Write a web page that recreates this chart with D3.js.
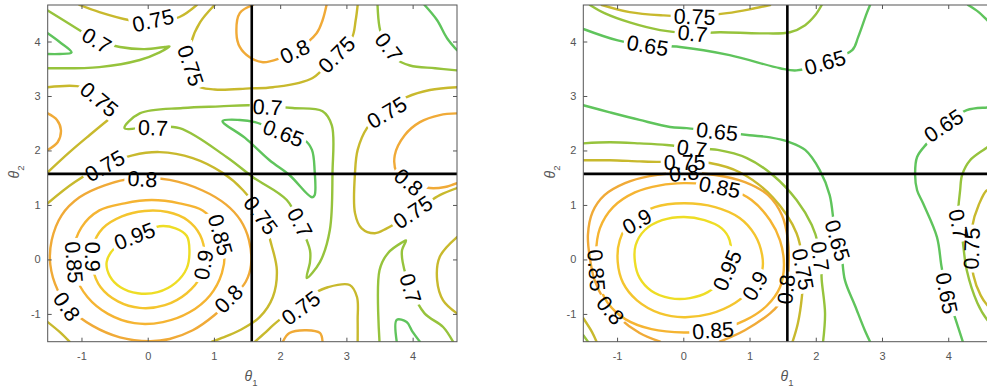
<!DOCTYPE html>
<html>
<head>
<meta charset="utf-8">
<script src="https://cdn.jsdelivr.net/npm/d3@7"></script>
<style>
  body { margin: 0; background: #fff; }
  svg { display: block; font-family: "Liberation Sans", Arial, Helvetica, sans-serif; }
</style>
</head>
<body>
<svg id="chart" width="987" height="392"></svg>
<script>
// contour levels and their colours
const levels = [0.65, 0.7, 0.75, 0.8, 0.85, 0.9, 0.95];
const levelColors = ["#5fc45c", "#96c33c", "#c8b92d", "#f0aa37", "#f5b432", "#f4c52e", "#eedd25"];
const thetaTicks = [-1, 0, 1, 2, 3, 4];
const thetaDomain = [-1.51, 4.67];
const crossAt = 1.571; // black reference lines

// contour lines: [level, [[theta1, theta2], ...]]
const leftContours = [
  [0.95, [[0.63,0.17],[0.59,0.43],[0.42,0.57],[0.18,0.61],[-0.20,0.43],[-0.50,0.21],[-0.62,-0.05],[-0.57,-0.31],[-0.41,-0.51],[-0.15,-0.62],[0.15,-0.60],[0.42,-0.43],[0.59,-0.16],[0.63,0.17]]],
  [0.9, [[0.86,0.08],[0.79,0.45],[0.60,0.72],[0.30,0.87],[-0.05,0.89],[-0.39,0.79],[-0.68,0.57],[-0.83,0.23],[-0.83,-0.16],[-0.71,-0.51],[-0.45,-0.77],[-0.12,-0.89],[0.26,-0.84],[0.59,-0.62],[0.80,-0.31],[0.86,0.08]]],
  [0.85, [[1.16,0.17],[1.07,0.57],[0.83,0.90],[0.48,1.03],[0.06,1.09],[-0.35,1.03],[-0.73,0.90],[-1.00,0.59],[-1.12,0.17],[-1.09,-0.29],[-0.91,-0.69],[-0.60,-1.00],[-0.20,-1.17],[0.23,-1.15],[0.63,-0.97],[0.94,-0.66],[1.12,-0.25],[1.16,0.17]]],
  [0.8, [[1.56,-0.10],[1.53,0.35],[1.40,0.72],[1.18,1.01],[0.82,1.27],[0.33,1.46],[-0.20,1.49],[-0.65,1.36],[-1.03,1.14],[-1.30,0.81],[-1.45,0.35],[-1.47,-0.10],[-1.36,-0.56],[-1.15,-0.93],[-0.83,-1.22],[-0.42,-1.43],[0.03,-1.50],[0.33,-1.46],[0.68,-1.30],[1.01,-1.02],[1.27,-0.71],[1.48,-0.41],[1.56,-0.10]]],
  [0.8, [[-1.51,2.68],[-1.37,2.56],[-1.31,2.37],[-1.36,2.15],[-1.51,2.01]]],
  [0.8, [[4.67,2.68],[4.41,2.65],[4.11,2.52],[3.88,2.28],[3.73,1.91],[3.76,1.60],[3.96,1.40],[4.26,1.31],[4.49,1.33],[4.67,1.40]]],
  [0.8, [[1.59,4.67],[1.39,4.52],[1.34,4.15],[1.39,3.90],[1.54,3.71],[1.74,3.62],[1.99,3.69],[2.25,3.84],[2.55,4.15],[2.64,4.39],[2.70,4.67]]],
  [0.8, [[2.04,-1.51],[2.14,-1.35],[2.40,-1.30],[2.60,-1.35],[2.64,-1.51]]],
  [0.75, [[-1.03,4.67],[-0.73,4.54],[-0.27,4.39],[0.08,4.34],[0.48,4.45],[0.74,4.67]]],
  [0.75, [[1.01,4.67],[0.79,4.35],[0.66,3.99],[0.63,3.56],[0.73,3.20],[1.01,3.12],[1.54,3.14],[1.89,3.16],[2.49,3.33],[2.82,3.75],[3.08,4.06],[3.14,4.39],[3.17,4.67]]],
  [0.75, [[-1.51,3.16],[-1.07,3.18],[-0.80,3.07],[-0.60,2.87],[-0.48,2.67],[-0.60,2.56],[-0.88,2.28],[-1.18,1.97],[-1.51,1.60]]],
  [0.75, [[-1.51,1.03],[-1.10,1.42],[-0.65,1.73],[-0.23,1.91],[0.18,1.97],[0.68,1.86],[1.13,1.59],[1.44,1.27],[1.72,0.81],[1.87,0.26],[1.95,-0.20],[1.89,-0.69],[1.69,-1.06],[1.39,-1.30],[1.12,-1.44],[0.97,-1.51]]],
  [0.75, [[1.62,-1.51],[1.77,-1.35],[1.89,-1.21],[2.22,-0.89],[2.52,-0.62],[2.72,-0.51],[3.05,-0.47],[3.16,-0.69],[3.17,-1.11],[3.17,-1.51]]],
  [0.75, [[4.67,3.16],[4.26,3.11],[3.91,2.98],[3.58,2.74],[3.31,2.41],[3.17,2.01],[3.13,1.59],[3.13,0.85],[3.23,0.57],[3.43,0.48],[3.61,0.57],[3.88,0.76],[4.18,1.00],[4.41,1.18],[4.67,1.31]]],
  [0.75, [[4.67,0.41],[4.41,0.05],[4.37,-0.38],[4.46,-0.75],[4.67,-0.99]]],
  [0.75, [[-1.51,-1.15],[-1.33,-1.33],[-1.18,-1.51]]],
  [0.7, [[3.47,4.67],[3.50,4.26],[3.58,3.93],[3.73,3.69],[3.96,3.56],[4.34,3.51],[4.67,3.47]]],
  [0.7, [[-1.51,4.57],[-1.15,4.30],[-0.77,4.02],[-0.42,3.90],[-0.05,3.86],[0.26,3.90],[0.33,3.91],[0.18,3.80],[-0.12,3.66],[-0.73,3.53],[-1.51,3.51]]],
  [0.7, [[-0.35,2.41],[-0.12,2.68],[0.53,2.78],[1.09,2.81],[1.54,2.83],[2.19,2.78],[2.64,2.72],[2.78,2.46],[2.79,1.59],[2.75,0.54],[2.60,-0.05],[2.40,-0.34],[2.45,-0.05],[2.45,0.17],[2.30,0.63],[2.10,1.09],[1.59,1.51],[1.19,1.88],[0.48,2.41],[0.03,2.43],[-0.35,2.41]]],
  [0.7, [[3.50,-1.51],[3.50,-0.20],[3.63,0.12],[3.85,0.32],[3.90,0.35],[3.84,0.17],[3.85,-0.05],[3.97,-0.53],[4.18,-0.99],[4.46,-1.24],[4.61,-1.51]]],
  [0.65, [[1.13,2.54],[1.39,2.56],[1.62,2.52],[2.05,2.32],[2.37,2.19],[2.48,2.01],[2.52,1.64],[2.52,1.18],[2.48,1.14],[2.14,1.55],[1.84,1.82],[1.47,2.23],[1.13,2.54]]],
  [0.65, [[-1.51,4.15],[-1.33,3.99],[-1.15,3.80],[-1.33,3.77],[-1.51,3.77]]],
  [0.65, [[4.18,4.67],[4.37,4.39],[4.52,4.06],[4.67,3.84]]],
  [0.65, [[3.76,-1.51],[3.76,-1.11],[3.91,-1.15],[4.00,-1.33],[4.11,-1.51]]]
];

const rightContours = [
  [0.95, [[0.70,0.35],[0.58,0.57],[0.32,0.72],[0.01,0.78],[-0.32,0.72],[-0.58,0.54],[-0.72,0.26],[-0.73,-0.05],[-0.66,-0.34],[-0.48,-0.58],[-0.20,-0.71],[0.10,-0.71],[0.37,-0.60],[0.58,-0.38],[0.70,-0.05],[0.70,0.35]]],
  [0.9, [[1.19,0.08],[1.08,0.45],[0.85,0.76],[0.48,0.96],[0.01,1.03],[-0.43,0.96],[-0.78,0.72],[-0.96,0.35],[-0.99,-0.05],[-0.91,-0.43],[-0.70,-0.75],[-0.35,-0.99],[0.01,-1.06],[0.40,-1.00],[0.78,-0.80],[1.03,-0.53],[1.19,-0.20],[1.19,0.08]]],
  [0.85, [[1.52,-0.10],[1.46,0.35],[1.31,0.72],[1.03,1.09],[0.70,1.29],[0.32,1.38],[0.01,1.40],[-0.35,1.36],[-0.73,1.23],[-1.06,0.96],[-1.26,0.57],[-1.32,0.08],[-1.29,-0.38],[-1.14,-0.80],[-0.87,-1.10],[-0.48,-1.28],[0.01,-1.34],[0.48,-1.30],[0.93,-1.12],[1.26,-0.85],[1.46,-0.51],[1.52,-0.10]]],
  [0.8, [[-0.35,-1.51],[-0.66,-1.35],[-0.96,-1.08],[-1.19,-0.75],[-1.34,-0.38],[-1.41,0.02],[-1.44,0.45],[-1.37,0.87],[-1.19,1.18],[-0.88,1.40],[-0.51,1.53],[0.01,1.59],[0.48,1.55],[0.93,1.42],[1.28,1.18],[1.49,0.81],[1.58,0.35],[1.59,-0.10],[1.55,-0.56],[1.43,-0.84],[1.31,-0.99],[0.93,-1.30],[0.55,-1.51]]],
  [0.75, [[-1.51,1.82],[-1.11,1.82],[-0.66,1.80],[-0.35,1.79],[0.02,1.79],[0.40,1.77],[0.85,1.60],[1.35,1.14],[1.71,0.48],[1.81,-0.20],[1.79,-0.69],[1.73,-1.17],[1.65,-1.51]]],
  [0.75, [[-1.51,-1.08],[-1.38,-1.33],[-1.31,-1.51]]],
  [0.75, [[-1.23,4.67],[-0.81,4.54],[-0.31,4.48],[0.17,4.46],[0.66,4.52],[1.00,4.59],[1.31,4.67]]],
  [0.75, [[4.67,1.17],[4.59,1.27],[4.46,1.00],[4.36,0.59],[4.35,0.17],[4.38,-0.29],[4.49,-0.66],[4.59,-0.84],[4.67,-0.93]]],
  [0.7, [[-1.51,2.13],[-1.11,2.15],[-0.66,2.13],[-0.25,2.10],[0.13,2.04],[0.52,2.01],[0.96,1.86],[1.35,1.55],[1.71,1.09],[1.94,0.63],[2.04,0.26],[2.08,-0.10],[2.09,-0.38],[2.14,-0.99],[2.11,-1.51]]],
  [0.7, [[-1.41,4.67],[-1.19,4.52],[-0.81,4.35],[-0.35,4.21],[0.14,4.15],[0.55,4.17],[1.16,4.15],[1.61,4.17],[1.84,4.30],[1.99,4.48],[2.09,4.67]]],
  [0.7, [[-1.51,-1.39],[-1.44,-1.51]]],
  [0.7, [[4.67,2.15],[4.59,2.06],[4.33,1.82],[4.21,1.55],[4.18,1.27],[4.15,0.78],[4.21,0.41],[4.28,-0.20],[4.44,-0.80],[4.59,-1.11],[4.67,-1.20]]],
  [0.65, [[-1.51,2.83],[-1.11,2.70],[-0.66,2.56],[-0.20,2.43],[0.05,2.41],[0.51,2.35],[1.00,2.28],[1.31,2.24],[1.61,2.15],[1.84,2.01],[2.06,1.64],[2.21,1.18],[2.29,0.54],[2.38,0.17],[2.44,-0.38],[2.59,-0.84],[2.74,-1.30],[2.82,-1.51]]],
  [0.65, [[-1.51,4.23],[-0.99,4.02],[-0.54,3.93],[-0.05,3.90],[0.70,3.75],[1.46,3.51],[1.71,3.47],[2.14,3.62],[2.55,3.84],[2.64,4.08],[2.77,4.52],[2.82,4.67]]],
  [0.65, [[4.67,2.80],[4.59,2.79],[4.28,2.74],[3.93,2.46],[3.68,2.13],[3.53,1.88],[3.50,1.55],[3.53,1.27],[3.62,1.03],[3.83,0.41],[3.90,-0.14],[3.98,-0.62],[4.10,-1.06],[4.22,-1.51]]],
  [0.65, [[4.67,4.30],[4.59,4.39],[4.46,4.54],[4.30,4.67]]]
];

// inline labels: [level, theta1, theta2]
const leftLabels = [
  [0.75,0.08,4.39],[0.7,-0.77,4.02],[0.75,0.65,3.56],[0.75,-0.73,2.94],[0.7,0.08,2.42],
  [0.75,-0.65,1.72],[0.8,-0.08,1.48],[0.8,2.22,3.82],[0.75,2.85,3.76],[0.7,1.81,2.80],
  [0.65,2.05,2.32],[0.7,3.64,3.90],[0.75,3.61,2.70],[0.8,3.94,1.42],[0.75,4.00,0.87],
  [0.75,1.71,0.81],[0.7,2.30,0.68],[0.7,3.97,-0.53],[0.75,2.31,-0.89],[0.95,-0.20,0.43],
  [0.85,-1.11,-0.05],[0.9,-0.83,0.05],[0.85,1.10,0.45],[0.9,0.84,-0.10],[0.8,1.22,-0.72],
  [0.8,-1.22,-0.86]
];
const rightLabels = [
  [0.75,0.17,4.46],[0.7,0.14,4.15],[0.65,-0.54,3.93],[0.65,2.14,3.62],[0.65,0.51,2.35],
  [0.7,0.13,2.04],[0.75,0.02,1.79],[0.8,0.01,1.59],[0.85,0.55,1.33],[0.9,-0.70,0.70],
  [0.95,0.66,-0.20],[0.9,1.08,-0.48],[0.85,-1.31,-0.20],[0.8,-1.10,-0.93],[0.85,0.45,-1.30],
  [0.8,1.55,-0.55],[0.75,1.81,-0.18],[0.7,2.07,0.06],[0.65,2.33,0.35],[0.65,3.98,-0.62],
  [0.7,4.16,0.65],[0.75,4.35,0.20],[0.65,3.93,2.46]
];

const W = 987, H = 392;
const plotW = 409.3, plotTop = 5, plotBottom = 341.7;
const axisGray = "#555";

const svg = d3.select("#chart");
const defs = svg.append("defs");

function segAngle(contours, lv, px, py, x, y) {
  let best = 0, bd = Infinity;
  contours.filter(c => c[0] === lv).forEach(c => {
    const pts = c[1];
    for (let i = 0; i < pts.length - 1; i++) {
      const ax = x(pts[i][0]), ay = y(pts[i][1]);
      const bx = x(pts[i + 1][0]), by = y(pts[i + 1][1]);
      const dx = bx - ax, dy = by - ay, L = dx * dx + dy * dy || 1;
      let t = ((px - ax) * dx + (py - ay) * dy) / L;
      t = Math.max(0, Math.min(1, t));
      const qx = ax + t * dx - px, qy = ay + t * dy - py, d = qx * qx + qy * qy;
      if (d < bd) { bd = d; best = Math.atan2(dy, dx) * 180 / Math.PI; }
    }
  });
  if (best > 90) best -= 180;
  if (best < -90) best += 180;
  return best;
}

function drawPanel(key, ox, contours, labels, xLabelX, yLabelX) {
  const x = d3.scaleLinear().domain(thetaDomain).range([ox, ox + plotW]);
  const y = d3.scaleLinear().domain(thetaDomain).range([plotBottom, plotTop]);

  defs.append("clipPath").attr("id", "clip-" + key)
    .append("rect").attr("x", ox).attr("y", plotTop)
    .attr("width", plotW).attr("height", plotBottom - plotTop);

  const g = svg.append("g");
  const contourG = g.append("g").attr("clip-path", `url(#clip-${key})`);
  const labelG = g.append("g").attr("clip-path", `url(#clip-${key})`);

  // labels first, so they can be measured for the line gaps
  const boxes = labels.map(([lv, t1, t2]) => {
    const px = x(t1), py = y(t2);
    const a = segAngle(contours, lv, px, py, x, y);
    const tr = `translate(${px},${py}) rotate(${a})`;
    const t = labelG.append("text")
      .attr("transform", tr)
      .attr("text-anchor", "middle")
      .attr("dy", "0.36em")
      .attr("font-size", 21.5)
      .attr("fill", "#000")
      .text(String(lv));
    const bb = t.node().getBBox();
    return { lv, tr, bb };
  });

  const line = d3.line().x(d => x(d[0])).y(d => y(d[1]));

  levels.forEach((lv, i) => {
    const mid = `mask-${key}-${i}`;
    const m = defs.append("mask").attr("id", mid)
      .attr("maskUnits", "userSpaceOnUse")
      .attr("x", 0).attr("y", 0).attr("width", W + 20).attr("height", H);
    m.append("rect").attr("x", 0).attr("y", 0).attr("width", W + 20).attr("height", H).attr("fill", "#fff");
    boxes.filter(b => b.lv === lv).forEach(b => {
      m.append("rect")
        .attr("transform", b.tr)
        .attr("x", b.bb.x - 3).attr("y", b.bb.y + 2)
        .attr("width", b.bb.width + 6).attr("height", b.bb.height - 4)
        .attr("fill", "#000");
    });
    const lg = contourG.append("g").attr("mask", `url(#${mid})`);
    contours.filter(c => c[0] === lv).forEach(c => {
      let pts = c[1];
      const first = pts[0], last = pts[pts.length - 1];
      const closed = first[0] === last[0] && first[1] === last[1];
      if (closed) pts = pts.slice(0, -1);
      lg.append("path")
        .attr("d", line.curve(closed ? d3.curveCatmullRomClosed.alpha(0.5) : d3.curveCatmullRom.alpha(0.5))(pts))
        .attr("fill", "none")
        .attr("stroke", levelColors[i])
        .attr("stroke-width", 2.4)
        .attr("stroke-linejoin", "round")
        .attr("stroke-linecap", "round");
    });
  });

  // black reference lines at pi/2
  const refG = g.append("g").attr("clip-path", `url(#clip-${key})`);
  refG.append("line")
    .attr("x1", x(crossAt)).attr("x2", x(crossAt))
    .attr("y1", plotTop).attr("y2", plotBottom)
    .attr("stroke", "#000").attr("stroke-width", 2.6);
  refG.append("line")
    .attr("x1", ox).attr("x2", ox + plotW)
    .attr("y1", y(crossAt)).attr("y2", y(crossAt))
    .attr("stroke", "#000").attr("stroke-width", 2.6);

  // box with inward ticks on all sides
  const styleAxis = a => {
    a.select(".domain").remove();
    a.selectAll(".tick line").attr("stroke", axisGray);
    a.selectAll(".tick text").attr("fill", axisGray).attr("font-size", 11)
      .attr("font-family", '"Liberation Sans", Arial, Helvetica, sans-serif');
  };
  g.append("g").attr("transform", `translate(0,${plotBottom})`)
    .call(d3.axisBottom(x).tickValues(thetaTicks).tickSize(-4).tickPadding(11).tickFormat(d => String(d)))
    .call(styleAxis);
  g.append("g").attr("transform", `translate(0,${plotTop})`)
    .call(d3.axisTop(x).tickValues(thetaTicks).tickSize(-4).tickFormat(""))
    .call(styleAxis);
  g.append("g").attr("transform", `translate(${ox},0)`)
    .call(d3.axisLeft(y).tickValues(thetaTicks).tickSize(-4).tickPadding(7).tickFormat(d => String(d)))
    .call(styleAxis);
  g.append("g").attr("transform", `translate(${ox + plotW},0)`)
    .call(d3.axisRight(y).tickValues(thetaTicks).tickSize(-4).tickFormat(""))
    .call(styleAxis);
  g.append("rect")
    .attr("x", ox).attr("y", plotTop)
    .attr("width", plotW).attr("height", plotBottom - plotTop)
    .attr("fill", "none").attr("stroke", axisGray).attr("stroke-width", 1);

  // axis titles
  const tx = g.append("text")
    .attr("x", xLabelX).attr("y", 381)
    .attr("text-anchor", "middle").attr("fill", axisGray).attr("font-size", 14);
  tx.append("tspan").attr("font-style", "italic").text("θ");
  tx.append("tspan").attr("font-size", 9.5).attr("dy", 5).text("1");

  const ty = g.append("text")
    .attr("transform", `translate(${yLabelX},${172}) rotate(-90)`)
    .attr("text-anchor", "middle").attr("fill", axisGray).attr("font-size", 14);
  ty.append("tspan").attr("font-style", "italic").text("θ");
  ty.append("tspan").attr("font-size", 9.5).attr("dy", 5).text("2");
}

drawPanel("left", 47.7, leftContours, leftLabels, 251, 19);
drawPanel("right", 583.3, rightContours, rightLabels, 787, 555);
</script>
</body>
</html>
